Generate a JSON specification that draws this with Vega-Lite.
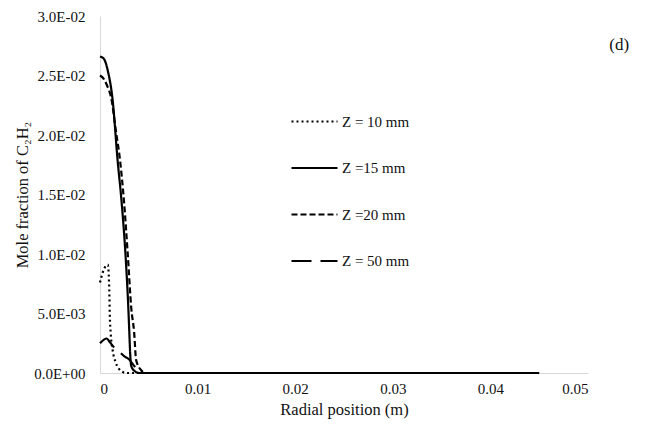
{
  "$schema": "https://vega.github.io/schema/vega-lite/v6.json",
  "width": 488,
  "height": 357,
  "autosize": "none",
  "padding": {"left": 100, "top": 16, "right": 68, "bottom": 59},
  "background": "white",
  "config": {
    "view": {"stroke": null},
    "font": "Liberation Serif",
    "axis": {
      "labelFont": "Liberation Serif",
      "titleFont": "Liberation Serif",
      "labelFontSize": 15,
      "titleFontSize": 16.5,
      "titleFontWeight": "normal",
      "labelColor": "#111",
      "titleColor": "#111",
      "grid": false,
      "ticks": false,
      "tickSize": 0,
      "domainColor": "#d9d9d9",
      "domainWidth": 1
    }
  },
  "layer": [
    {
      "data": {
        "values": [
          {"z": "Z = 10 mm", "r": 0, "mf": 0.0076},
          {"z": "Z = 10 mm", "r": 0.0003, "mf": 0.0085},
          {"z": "Z = 10 mm", "r": 0.0006, "mf": 0.0090},
          {"z": "Z = 10 mm", "r": 0.0008, "mf": 0.0091},
          {"z": "Z = 10 mm", "r": 0.00095, "mf": 0.0070},
          {"z": "Z = 10 mm", "r": 0.001, "mf": 0.0050},
          {"z": "Z = 10 mm", "r": 0.0011, "mf": 0.0033},
          {"z": "Z = 10 mm", "r": 0.0013, "mf": 0.0019},
          {"z": "Z = 10 mm", "r": 0.0016, "mf": 0.0009},
          {"z": "Z = 10 mm", "r": 0.0019, "mf": 0.0004},
          {"z": "Z = 10 mm", "r": 0.0023, "mf": 0.0001},
          {"z": "Z = 10 mm", "r": 0.0027, "mf": 0},
          {"z": "Z = 10 mm", "r": 0.045, "mf": 0},

          {"z": "Z =15 mm", "r": 0, "mf": 0.0266},
          {"z": "Z =15 mm", "r": 0.0004, "mf": 0.0264},
          {"z": "Z =15 mm", "r": 0.0008, "mf": 0.0254},
          {"z": "Z =15 mm", "r": 0.0013, "mf": 0.0229},
          {"z": "Z =15 mm", "r": 0.0018, "mf": 0.0179},
          {"z": "Z =15 mm", "r": 0.0022, "mf": 0.0145},
          {"z": "Z =15 mm", "r": 0.0026, "mf": 0.0101},
          {"z": "Z =15 mm", "r": 0.0029, "mf": 0.0055},
          {"z": "Z =15 mm", "r": 0.0030, "mf": 0.0035},
          {"z": "Z =15 mm", "r": 0.0031, "mf": 0.0015},
          {"z": "Z =15 mm", "r": 0.0032, "mf": 0.0006},
          {"z": "Z =15 mm", "r": 0.0035, "mf": 0.0002},
          {"z": "Z =15 mm", "r": 0.0040, "mf": 0},
          {"z": "Z =15 mm", "r": 0.045, "mf": 0},

          {"z": "Z =20 mm", "r": 0, "mf": 0.0250},
          {"z": "Z =20 mm", "r": 0.0004, "mf": 0.0247},
          {"z": "Z =20 mm", "r": 0.0007, "mf": 0.0242},
          {"z": "Z =20 mm", "r": 0.0012, "mf": 0.0229},
          {"z": "Z =20 mm", "r": 0.0016, "mf": 0.0205},
          {"z": "Z =20 mm", "r": 0.00205, "mf": 0.0179},
          {"z": "Z =20 mm", "r": 0.00245, "mf": 0.0145},
          {"z": "Z =20 mm", "r": 0.00285, "mf": 0.0099},
          {"z": "Z =20 mm", "r": 0.0032, "mf": 0.0055},
          {"z": "Z =20 mm", "r": 0.0035, "mf": 0.0034},
          {"z": "Z =20 mm", "r": 0.0037, "mf": 0.0011},
          {"z": "Z =20 mm", "r": 0.0042, "mf": 0.00025},
          {"z": "Z =20 mm", "r": 0.0046, "mf": 0},
          {"z": "Z =20 mm", "r": 0.045, "mf": 0},

          {"z": "Z = 50 mm", "r": 0, "mf": 0.0025},
          {"z": "Z = 50 mm", "r": 0.0004, "mf": 0.0028},
          {"z": "Z = 50 mm", "r": 0.0007, "mf": 0.0029},
          {"z": "Z = 50 mm", "r": 0.0010, "mf": 0.0026},
          {"z": "Z = 50 mm", "r": 0.0015, "mf": 0.0021},
          {"z": "Z = 50 mm", "r": 0.0021, "mf": 0.0017},
          {"z": "Z = 50 mm", "r": 0.0025, "mf": 0.0014},
          {"z": "Z = 50 mm", "r": 0.0029, "mf": 0.0012},
          {"z": "Z = 50 mm", "r": 0.0035, "mf": 0.0006},
          {"z": "Z = 50 mm", "r": 0.0040, "mf": 0.0001},
          {"z": "Z = 50 mm", "r": 0.0045, "mf": 0},
          {"z": "Z = 50 mm", "r": 0.045, "mf": 0}
        ]
      },
      "mark": {"type": "line", "color": "black", "strokeWidth": 2.2, "strokeCap": "butt", "interpolate": "monotone"},
      "encoding": {
        "x": {
          "field": "r",
          "type": "quantitative",
          "scale": {"domain": [0, 0.05], "nice": false, "zero": false},
          "axis": {
            "values": [0, 0.01, 0.02, 0.03, 0.04, 0.05],
            "labelExpr": "datum.value == 0 ? '0' : format(datum.value, '.2f')",
            "labelPadding": 8,
            "title": "Radial position (m)",
            "titlePadding": 5
          }
        },
        "y": {
          "field": "mf",
          "type": "quantitative",
          "scale": {"domain": [0, 0.03], "nice": false},
          "axis": {
            "values": [0, 0.005, 0.01, 0.015, 0.02, 0.025, 0.03],
            "labelExpr": "datum.value == 0 ? '0.0E+00' : replace(format(datum.value, '.1e'), 'e-', 'E-0')",
            "labelPadding": 15,
            "title": "Mole fraction of C₂H₂",
            "titlePadding": 3
          }
        },
        "strokeDash": {
          "field": "z",
          "type": "nominal",
          "scale": {
            "domain": ["Z = 10 mm", "Z =15 mm", "Z =20 mm", "Z = 50 mm"],
            "range": [[2, 3], [1, 0], [6, 3], [20, 9]]
          },
          "legend": {
            "title": null,
            "orient": "none",
            "legendX": 190,
            "legendY": 81,
            "symbolType": "stroke",
            "symbolSize": 2116,
            "symbolStrokeWidth": 2.2,
            "symbolStrokeColor": "black",
            "labelFont": "Liberation Serif",
            "labelFontSize": 15,
            "labelColor": "#111",
            "labelOffset": 3,
            "rowPadding": 13.5
          }
        }
      }
    },
    {
      "data": {"values": [{"tag": "(d)", "r": 0.0532, "mf": 0.0276}]},
      "mark": {"type": "text", "font": "Liberation Serif", "fontSize": 17, "color": "#111", "clip": false},
      "encoding": {
        "x": {"field": "r", "type": "quantitative"},
        "y": {"field": "mf", "type": "quantitative"},
        "text": {"field": "tag"}
      }
    }
  ]
}
